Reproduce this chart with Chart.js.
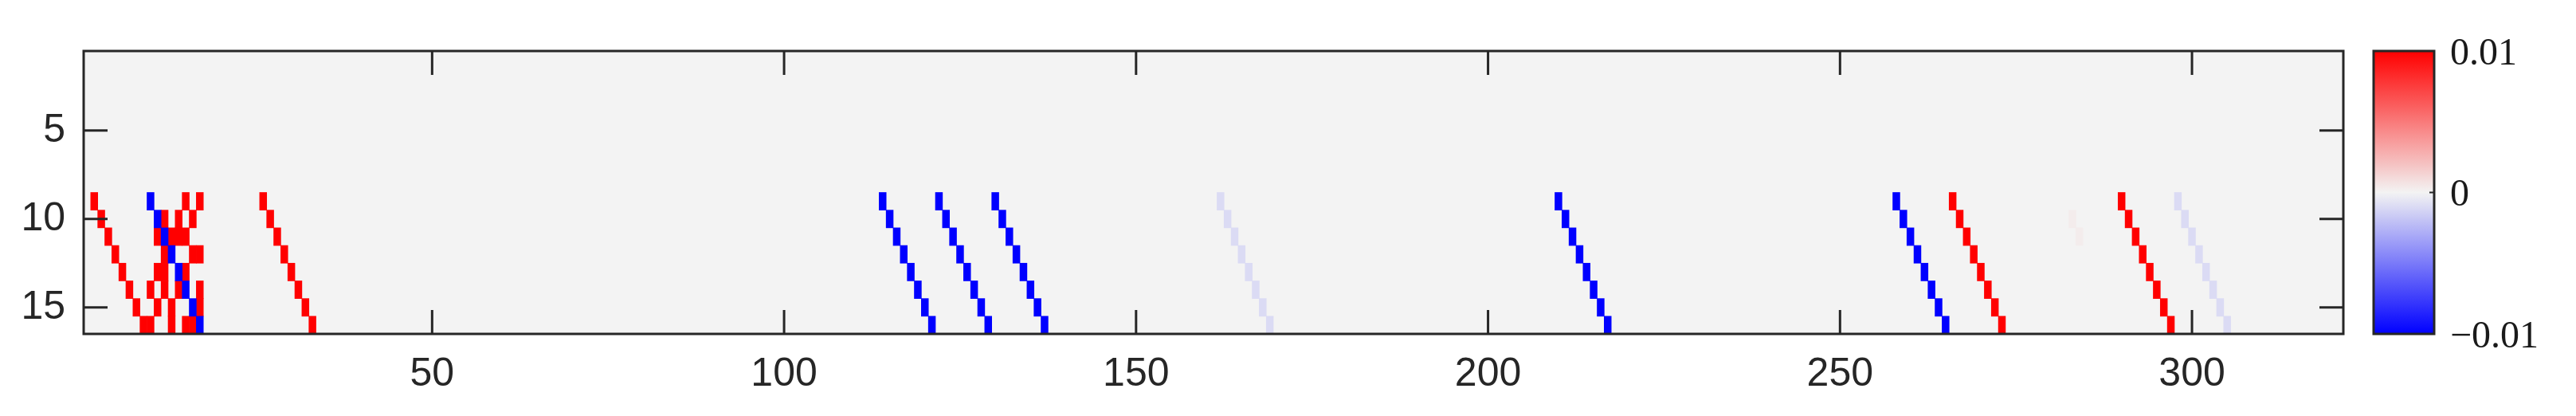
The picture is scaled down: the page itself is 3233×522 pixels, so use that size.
<!DOCTYPE html>
<html>
<head>
<meta charset="utf-8">
<script src="https://cdn.jsdelivr.net/npm/chart.js@4.4.0/dist/chart.umd.min.js"></script>
<style>
  html, body { margin: 0; padding: 0; background: #fff; }
  #wrap { width: 3233px; height: 522px; position: relative; }
</style>
</head>
<body>
<div id="wrap"><canvas id="heat"></canvas></div>
<script>
// grid: 16 rows x 321 columns, zero everywhere except the cells below
const nRows = 16;
const nCols = 321;

const xTicks = [50, 100, 150, 200, 250, 300];
const yTicks = [5, 10, 15];
const cbTicks = [-0.01, 0, 0.01];
const cbLimit = 0.01;

// value levels
const redValue = 0.01;
const blueValue = -0.01;
const faintBlueValue = -0.001;
const faintRedValue = 0.0003;

// rows that hold nonzero cells, and the columns per level in each of them
const activeRows = [9, 10, 11, 12, 13, 14, 15, 16];
const redCols = [
    [2, 15, 17, 26, 266, 290],
    [3, 12, 14, 16, 27, 267, 291],
    [4, 11, 13, 14, 15, 28, 268, 292],
    [5, 12, 16, 17, 29, 269, 293],
    [6, 11, 12, 15, 30, 270, 294],
    [7, 10, 12, 14, 17, 31, 271, 295],
    [8, 11, 13, 17, 32, 272, 296],
    [9, 10, 13, 15, 16, 33, 273, 297]
];
const blueCols = [
    [10, 114, 122, 130, 210, 258],
    [11, 115, 123, 131, 211, 259],
    [12, 116, 124, 132, 212, 260],
    [13, 117, 125, 133, 213, 261],
    [14, 118, 126, 134, 214, 262],
    [15, 119, 127, 135, 215, 263],
    [16, 120, 128, 136, 216, 264],
    [17, 121, 129, 137, 217, 265]
];
const faintBlueCols = [
    [162, 298], [163, 299], [164, 300], [165, 301],
    [166, 302], [167, 303], [168, 304], [169, 305]
];
const faintRedCols = [
    [], [283], [284], [], [], [], [], []
];

// zero maps to light grey, ends to pure red / blue
function colorFor(v) {
    let t = Math.max(-1, Math.min(1, v / cbLimit));
    let r, g, b;
    if (t >= 0) {
        r = 243 + 12 * t; g = 243 * (1 - t); b = g;
    } else {
        t = -t;
        r = 243 * (1 - t); g = r; b = 243 + 12 * t;
    }
    return `rgb(${Math.round(r)},${Math.round(g)},${Math.round(b)})`;
}

// floating bars, one per nonzero cell
const cells = [];
function addCells(colLists, value) {
    colLists.forEach((cols, i) => {
        const row = activeRows[i];
        cols.forEach(col => cells.push({ x: col, y: [row - 0.5, row + 0.5], v: value }));
    });
}
addCells(redCols, redValue);
addCells(blueCols, blueValue);
addCells(faintBlueCols, faintBlueValue);
addCells(faintRedCols, faintRedValue);

const ink = '#262626';
const tickLen = 30;

const heatFrame = {
    id: 'heatFrame',
    beforeDatasetsDraw(chart) {
        const { ctx, chartArea: a } = chart;
        ctx.save();
        ctx.fillStyle = colorFor(0);
        ctx.fillRect(a.left, a.top, a.right - a.left, a.bottom - a.top);
        ctx.restore();
    },
    afterDatasetsDraw(chart) {
        const { ctx, chartArea: a, scales } = chart;
        ctx.save();
        ctx.strokeStyle = ink;
        ctx.lineWidth = 3;
        ctx.beginPath();
        xTicks.forEach(v => {
            const px = scales.x.getPixelForValue(v);
            ctx.moveTo(px, a.bottom); ctx.lineTo(px, a.bottom - tickLen);
            ctx.moveTo(px, a.top); ctx.lineTo(px, a.top + tickLen);
        });
        yTicks.forEach(v => {
            const py = scales.y.getPixelForValue(v);
            ctx.moveTo(a.left, py); ctx.lineTo(a.left + tickLen, py);
            ctx.moveTo(a.right, py); ctx.lineTo(a.right - tickLen, py);
        });
        ctx.stroke();
        ctx.strokeRect(a.left, a.top, a.right - a.left, a.bottom - a.top);

        // colour bar
        const cb = scales.cb;
        const top = cb.getPixelForValue(cbLimit);
        const bot = cb.getPixelForValue(-cbLimit);
        const x0 = cb.left + 38, w = 76;
        const grad = ctx.createLinearGradient(0, top, 0, bot);
        for (let i = 0; i <= 20; i++) {
            grad.addColorStop(i / 20, colorFor(cbLimit - i * cbLimit / 10));
        }
        ctx.fillStyle = grad;
        ctx.fillRect(x0, top, w, bot - top);
        ctx.strokeRect(x0, top, w, bot - top);
        const pz = cb.getPixelForValue(0);
        ctx.lineWidth = 2;
        ctx.beginPath();
        ctx.moveTo(x0 + w, pz); ctx.lineTo(x0 + w - 6, pz);
        ctx.stroke();
        ctx.restore();
    }
};

const sansFont = { family: '"Liberation Sans", Arial, sans-serif', size: 50 };

new Chart(document.getElementById('heat'), {
    type: 'bar',
    data: {
        datasets: [{
            data: cells,
            backgroundColor: c => colorFor(c.raw ? c.raw.v : 0),
            borderWidth: 0,
            barPercentage: 1,
            categoryPercentage: 1,
            grouped: false
        }]
    },
    options: {
        responsive: true,
        maintainAspectRatio: false,
        devicePixelRatio: 1,
        animation: false,
        layout: { padding: { top: 64, left: 0, right: 0, bottom: 0 } },
        plugins: { legend: { display: false }, tooltip: { enabled: false } },
        scales: {
            x: {
                type: 'linear',
                min: 0.5,
                max: nCols + 0.5,
                offset: false,
                grid: { display: false, drawTicks: false },
                border: { display: false },
                ticks: { color: ink, font: sansFont, padding: 21, maxRotation: 0, autoSkip: false },
                afterBuildTicks: s => { s.ticks = xTicks.map(v => ({ value: v })); },
                afterFit: s => { s.height = 103; s.paddingLeft = 0; s.paddingRight = 0; }
            },
            y: {
                type: 'linear',
                reverse: true,
                min: 0.5,
                max: nRows + 0.5,
                grid: { display: false, drawTicks: false },
                border: { display: false },
                ticks: { color: ink, font: sansFont, padding: 23 },
                afterBuildTicks: s => { s.ticks = yTicks.map(v => ({ value: v })); },
                afterFit: s => { s.width = 105; s.paddingTop = 0; s.paddingBottom = 0; }
            },
            cb: {
                type: 'linear',
                position: 'right',
                min: -cbLimit,
                max: cbLimit,
                grid: { display: false, drawTicks: false, tickLength: 0 },
                border: { display: false },
                ticks: {
                    color: '#1a1a1a',
                    font: { family: '"Liberation Serif", "DejaVu Serif", serif', size: 48 },
                    padding: 134,
                    labelOffset: 4,
                    callback: v => v > 0 ? '0.01' : (v < 0 ? '\u22120.01' : '0')
                },
                afterBuildTicks: s => { s.ticks = cbTicks.map(v => ({ value: v })); },
                afterFit: s => { s.width = 292; s.paddingTop = 0; s.paddingBottom = 0; }
            }
        }
    },
    plugins: [heatFrame]
});
</script>
</body>
</html>
